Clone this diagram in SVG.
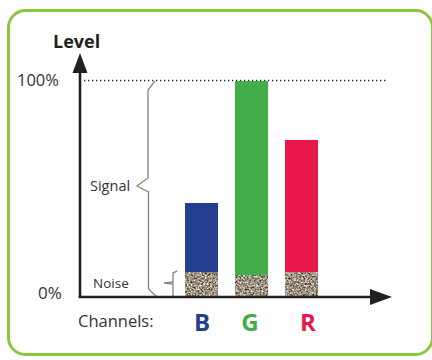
<svg xmlns="http://www.w3.org/2000/svg" width="432" height="360" viewBox="0 0 432 360">
<style>
.lbl{font-family:"Open Sans","Liberation Sans",sans-serif;fill:#333}
.ch{font-family:"Open Sans","Liberation Sans",sans-serif;font-weight:bold;font-size:24px;text-anchor:middle}
.axis{stroke:#231f20;stroke-width:2.6;fill:none}
.brace{fill:none;stroke:#8a8a8a;stroke-width:1.4;stroke-linejoin:miter}
.noise{filter:url(#grain)}
</style>
<defs>
<filter id="grain" x="0" y="0" width="1" height="1" filterUnits="objectBoundingBox" color-interpolation-filters="sRGB">
<feTurbulence type="fractalNoise" baseFrequency="0.55" numOctaves="3" seed="7" result="t"/>
<feColorMatrix in="t" type="matrix" values="1.3 0 0 0 -0.04  1.3 0 0 0 -0.08  1.3 0 0 0 -0.14  0 0 0 0 1" result="c"/>
<feComposite in="c" in2="SourceGraphic" operator="in"/>
</filter>
</defs>
<rect x="8.5" y="10.5" width="424" height="344" rx="17" fill="#fff" stroke="#8cc63f" stroke-width="3"/>

<g id="dotted">
<line x1="84" y1="80.5" x2="387" y2="80.5" stroke="#231f20" stroke-width="1.3" stroke-dasharray="1.3 2.7"/>
</g>

<g id="bar-B">
<rect x="185" y="203" width="33" height="70" fill="#253f8f"/>
<rect class="noise" x="185" y="272" width="33" height="25" fill="#a89e92"/>
</g>
<g id="bar-G">
<rect x="235" y="81" width="33" height="195" fill="#41ae4a"/>
<rect class="noise" x="235" y="275" width="33" height="22" fill="#a89e92"/>
</g>
<g id="bar-R">
<rect x="285" y="140" width="33" height="133" fill="#e8194a"/>
<rect class="noise" x="285" y="272" width="33" height="25" fill="#a89e92"/>
</g>

<g id="connectors">
<path class="brace" d="M155,81 L148,90 L148,178 L137,186 L148.5,192 L148.5,289 L156,296"/>
<path class="brace" d="M177,271 L173,273 L173,282 L164,283 L173,284 L173,297" stroke="#444" stroke-width="1.2"/>
</g>

<g id="axes">
<line class="axis" x1="80" y1="297" x2="80" y2="70"/>
<polygon points="80,53 72.5,73 87.5,73" fill="#231f20"/>
<line class="axis" x1="78.7" y1="297" x2="372" y2="297"/>
<polygon points="392,297 370,289 370,305" fill="#231f20"/>
</g>

<g id="labels">
<text x="53" y="48" font-family="Open Sans, Liberation Sans, sans-serif" font-weight="bold" font-size="18" fill="#231f20">Level</text>
<text class="lbl" x="17" y="86" font-size="16.5">100%</text>
<text class="lbl" x="38" y="299" font-size="17">0%</text>
<text class="lbl" x="90" y="191" font-size="14.5">Signal</text>
<text class="lbl" x="93" y="288" font-size="13.5">Noise</text>
<text class="lbl" x="78" y="327" font-size="16.5">Channels:</text>
<text class="ch" x="202" y="331" fill="#253f8f">B</text>
<text class="ch" x="250" y="331" fill="#41ae4a">G</text>
<text class="ch" x="308" y="331" fill="#e8194a">R</text>
</g>
</svg>
